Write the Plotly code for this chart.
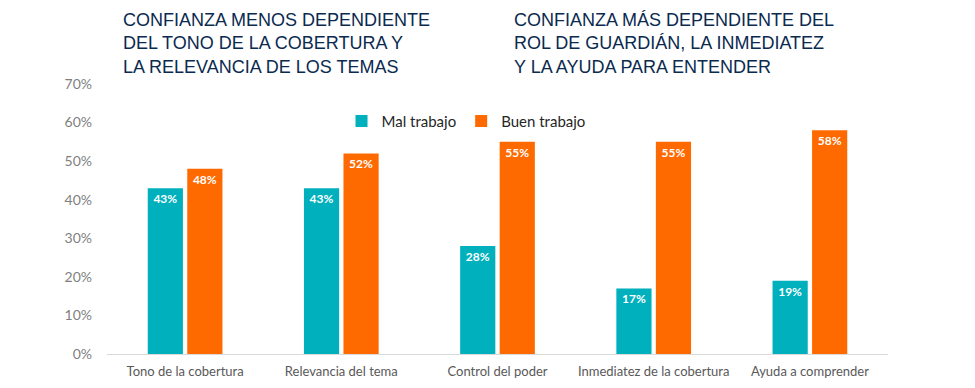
import plotly.graph_objects as go

categories = ["Tono de la cobertura", "Relevancia del tema", "Control del poder",
              "Inmediatez de la cobertura", "Ayuda a comprender"]
mal_trabajo = [43, 43, 28, 17, 19]
buen_trabajo = [48, 52, 55, 55, 58]
y_ticks = [0, 10, 20, 30, 40, 50, 60, 70]
y_tick_labels = [f"{v}%" for v in y_ticks]

title_left = "CONFIANZA MENOS DEPENDIENTE<br>DEL TONO DE LA COBERTURA Y<br>LA RELEVANCIA DE LOS TEMAS"
title_right = "CONFIANZA MÁS DEPENDIENTE DEL<br>ROL DE GUARDIÁN, LA INMEDIATEZ<br>Y LA AYUDA PARA ENTENDER"

TEAL = "#00B0BD"
ORANGE = "#FF6A00"

ML, MT, PW, PH = 99, 76, 781, 270

fig = go.Figure()
for name, vals, col in [("Mal trabajo", mal_trabajo, TEAL), ("Buen trabajo", buen_trabajo, ORANGE)]:
    fig.add_trace(go.Bar(
        name=name, x=categories, y=vals,
        marker=dict(color=col, line=dict(width=0)),
        text=[f"{v}%" for v in vals], textposition="inside",
        insidetextanchor="end",
        textfont=dict(color="white", size=12, family="Lato"),
        texttemplate="<b>%{text}</b>",
    ))

fig.update_layout(
    width=975, height=388,
    margin=dict(l=ML, r=975 - ML - PW, t=MT, b=388 - MT - PH),
    paper_bgcolor="white", plot_bgcolor="white",
    barmode="group", bargap=0.494, bargroupgap=0.11,
    font=dict(family="Lato", color="#595959"),
    showlegend=True,
    legend=dict(orientation="h", x=(466 - 107) / PW, xanchor="center", y=0.862, yanchor="middle",
                font=dict(size=15, color="#262626"), bgcolor="rgba(0,0,0,0)",
                itemwidth=30, traceorder="normal"),
    xaxis=dict(showgrid=False, showline=True, linecolor="#D9D9D9", linewidth=1,
               tickfont=dict(size=13, color="#595959"), ticks="", ticklen=0,
               ticklabelstandoff=5),
    yaxis=dict(range=[0, 70], tickvals=y_ticks, ticktext=y_tick_labels,
               showgrid=False, zeroline=False, showline=False,
               tickfont=dict(size=14, color="#7F7F7F"), ticks="",
               ticklabelstandoff=14),
    uniformtext=dict(minsize=8, mode="show"),
)

for txt, xpx in [(title_left, 121), (title_right, 512)]:
    fig.add_annotation(text=txt, xref="paper", yref="paper",
                       x=(xpx - 107) / PW, y=1 + (84 - 8) / PH,
                       xanchor="left", yanchor="top", showarrow=False, align="left",
                       font=dict(family="Liberation Sans", size=18, color="#0B2A4F"))

fig.write_html("out.html")
